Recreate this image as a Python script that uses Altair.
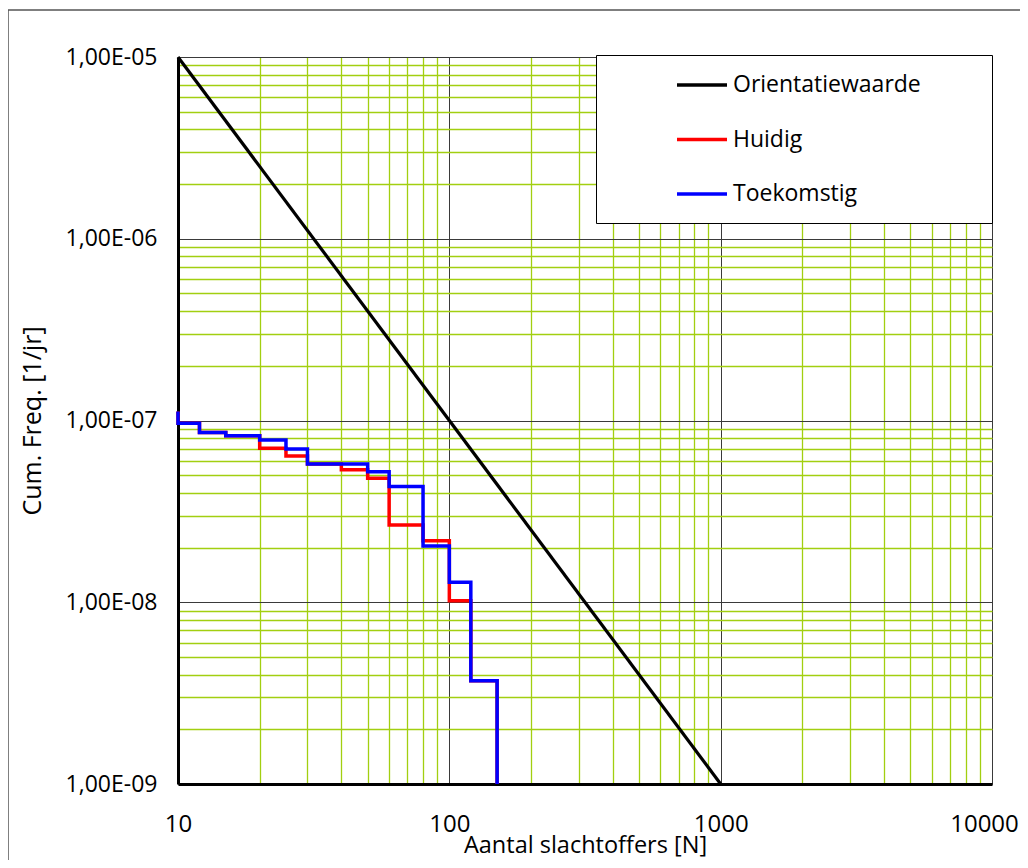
import math
import altair as alt
import pandas as pd

# ---- data ----
series_names = ["Orientatiewaarde", "Huidig", "Toekomstig"]
series_colors = ["#000000", "#FF0000", "#0000FF"]

orient_N = [10, 1000]
orient_F = [1e-5, 1e-9]

huidig_N = [10, 10, 12, 15, 20, 25, 30, 40, 50, 60, 80, 100, 120, 150]
huidig_F = [1.12e-7, 9.65e-8, 8.6e-8, 8.25e-8, 7.03e-8, 6.38e-8, 5.77e-8,
            5.35e-8, 4.81e-8, 2.66e-8, 2.18e-8, 1.02e-8, 3.7e-9, 1e-9]

toekomst_N = [10, 10, 12, 15, 20, 25, 30, 50, 60, 80, 100, 120, 150]
toekomst_F = [1.12e-7, 9.65e-8, 8.6e-8, 8.25e-8, 7.81e-8, 6.97e-8, 5.77e-8,
              5.22e-8, 4.33e-8, 2.04e-8, 1.29e-8, 3.7e-9, 1e-9]

x_major = [10, 100, 1000, 10000]
x_tick_labels = ["10", "100", "1000", "10000"]
x_minor = [20, 30, 40, 50, 60, 70, 80, 90,
           200, 300, 400, 500, 600, 700, 800, 900,
           2000, 3000, 4000, 5000, 6000, 7000, 8000, 9000]

y_major = [1e-9, 1e-8, 1e-7, 1e-6, 1e-5]
y_tick_labels = ["1,00E-09", "1,00E-08", "1,00E-07", "1,00E-06", "1,00E-05"]
y_minor = [2e-9, 3e-9, 4e-9, 5e-9, 6e-9, 7e-9, 8e-9, 9e-9,
           2e-8, 3e-8, 4e-8, 5e-8, 6e-8, 7e-8, 8e-8, 9e-8,
           2e-7, 3e-7, 4e-7, 5e-7, 6e-7, 7e-7, 8e-7, 9e-7,
           2e-6, 3e-6, 4e-6, 5e-6, 6e-6, 7e-6, 8e-6, 9e-6]

# ---- build table ----
rows = []
for name, Ns, Fs in [("Orientatiewaarde", orient_N, orient_F),
                     ("Huidig", huidig_N, huidig_F),
                     ("Toekomstig", toekomst_N, toekomst_F)]:
    for i, (n, f) in enumerate(zip(Ns, Fs)):
        rows.append({"N": n, "F": f, "series": name, "i": i})
df = pd.DataFrame(rows)

FONT = "Open Sans"
LOG = "(log(datum.value)/LN10)"
is_major = f"abs({LOG} - round({LOG})) < 1e-6"
grid_color = {"condition": {"test": is_major, "value": "#3a3a3a"}, "value": "#A2CF10"}
grid_width = {"condition": {"test": is_major, "value": 1}, "value": 1.3}


def label_expr(values, labels):
    expr = "''"
    for v, lab in zip(reversed(values), reversed(labels)):
        expr = f"abs({LOG} - ({math.log10(v)!r})) < 1e-6 ? '{lab}' : " + expr
    return expr


x_enc = alt.X(
    "N:Q",
    scale=alt.Scale(type="log", domain=[10, 10000], nice=False),
    axis=alt.Axis(
        values=sorted(x_major + x_minor),
        labelExpr=label_expr(x_major, x_tick_labels),
        labelOffset={"condition": {"test": f"{LOG} > 3.9", "value": -8}, "value": 0},
        grid=True, gridColor=grid_color, gridWidth=grid_width,
        ticks=False, tickSize=0, labelPadding=28, labelOverlap=False,
        labelFlush=False, labelBound=False,
        labelFont=FONT, labelFontSize=24, labelColor="#000000",
        domainColor="#000000", domainWidth=3,
        title="Aantal slachtoffers [N]", titleFont=FONT, titleFontSize=23.5,
        titleFontWeight="normal", titleColor="#000000",
        titleBaseline="alphabetic", titleY=68,
    ),
)
y_enc = alt.Y(
    "F:Q",
    scale=alt.Scale(type="log", domain=[1e-9, 1e-5], nice=False),
    axis=alt.Axis(
        values=sorted(y_major + y_minor),
        labelExpr=label_expr(y_major, y_tick_labels),
        grid=True, gridColor=grid_color, gridWidth=grid_width,
        ticks=False, tickSize=0, labelPadding=21, labelOverlap=False,
        labelFlush=False, labelBound=False,
        labelFont=FONT, labelFontSize=23, labelColor="#000000",
        domainColor="#000000", domainWidth=3,
        title="Cum. Freq. [1/jr]", titleFont=FONT, titleFontSize=25,
        titleFontWeight="normal", titleColor="#000000",
        titleBaseline="alphabetic", titleX=-138,
    ),
)
pad = "\u00a0" * 11 + "\u200a" + "\u200b"
color_enc = alt.Color(
    "series:N",
    scale=alt.Scale(domain=series_names, range=series_colors),
    legend=alt.Legend(
        orient="none", legendX=418, legendY=-2,
        title="\u00a0", titleOrient="bottom", titleFontSize=9,
        titlePadding=5, titleFont=FONT,
        symbolType="stroke", symbolSize=2500, symbolStrokeWidth=3.5,
        symbolOffset=76, labelOffset=4,
        labelFont=FONT, labelFontSize=23, labelColor="#000000", labelLimit=400,
        labelExpr=f"datum.label == 'Orientatiewaarde' ? datum.label + '{pad}' : datum.label",
        padding=3, rowPadding=15.5,
        fillColor="#FFFFFF", strokeColor="#000000", cornerRadius=0,
    ),
)

base = alt.Chart(df).encode(x=x_enc, y=y_enc, color=color_enc, order=alt.Order("i:Q"))

orient_layer = base.transform_filter(alt.datum.series == "Orientatiewaarde").mark_line(strokeWidth=3.2)
huidig_layer = base.transform_filter(alt.datum.series == "Huidig").mark_line(strokeWidth=3.5, interpolate="step-after")
toek_layer = base.transform_filter(alt.datum.series == "Toekomstig").mark_line(strokeWidth=3.5, interpolate="step-after")

frame = alt.Chart().mark_rect(filled=False, stroke="#555555", strokeWidth=1.5).encode(
    x=alt.value(-170), x2=alt.value(1000), y=alt.value(-47), y2=alt.value(900)
)

chart = alt.layer(frame, orient_layer, huidig_layer, toek_layer).properties(
    width=814, height=727,
    autosize=alt.AutoSizeParams(type="none"),
    padding={"left": 170, "top": 49, "right": 28, "bottom": 76},
).configure_view(stroke="#000000", strokeWidth=2).configure(background="#FFFFFF")

chart.save("out.html", embed_options={"renderer": "svg", "actions": False})
